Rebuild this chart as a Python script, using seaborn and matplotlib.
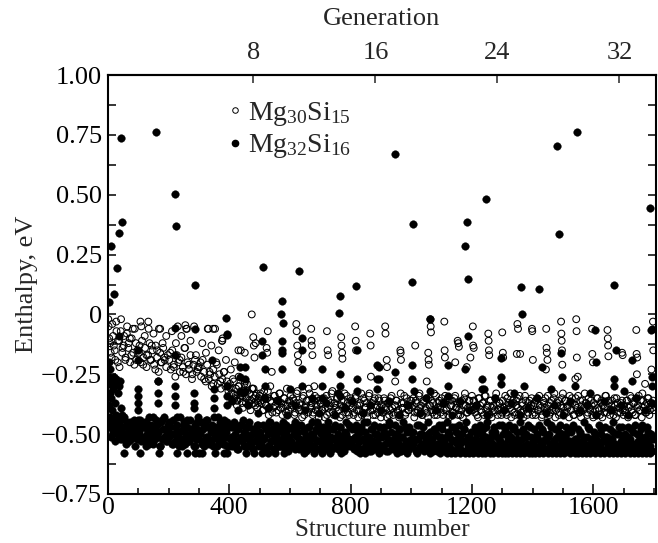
import numpy as np
import pandas as pd
import matplotlib
matplotlib.use("Agg")
import matplotlib.pyplot as plt
import seaborn as sns
from matplotlib.lines import Line2D
from matplotlib.ticker import MultipleLocator

# ---------------- data ----------------
# Mg30Si15 (open circles): dense band, one value every 5th structure
mg30_band_y = [
    -0.05,-0.12,-0.18,-0.09,-0.15,-0.03,-0.2,-0.11,-0.07,-0.16,-0.13,-0.19,-0.08,-0.14,-0.1,-0.17,-0.06,-0.21,-0.12,-0.15,
    -0.16,-0.2,-0.11,-0.18,-0.14,-0.22,-0.17,-0.12,-0.19,-0.15,-0.21,-0.13,-0.18,-0.24,-0.16,-0.2,-0.14,-0.19,-0.22,-0.17,
    -0.19,-0.23,-0.15,-0.21,-0.26,-0.17,-0.2,-0.24,-0.18,-0.22,-0.14,-0.25,-0.2,-0.23,-0.17,-0.27,-0.21,-0.19,-0.24,-0.22,
    -0.22,-0.26,-0.19,-0.24,-0.28,-0.21,-0.27,-0.25,-0.3,-0.23,-0.26,-0.2,-0.29,-0.25,-0.31,-0.27,-0.24,-0.3,-0.28,-0.32,
    -0.29,-0.33,-0.27,-0.35,-0.31,-0.36,-0.3,-0.34,-0.37,-0.32,-0.28,-0.35,-0.38,-0.33,-0.36,-0.31,-0.37,-0.34,-0.39,-0.35,
    -0.33,-0.37,-0.4,-0.35,-0.38,-0.32,-0.39,-0.36,-0.41,-0.34,-0.38,-0.36,-0.4,-0.33,-0.37,-0.39,-0.35,-0.41,-0.38,-0.36,
    -0.34,-0.38,-0.36,-0.41,-0.33,-0.39,-0.37,-0.4,-0.35,-0.42,-0.38,-0.36,-0.31,-0.39,-0.37,-0.41,-0.34,-0.38,-0.4,-0.36,
    -0.37,-0.4,-0.35,-0.39,-0.42,-0.36,-0.38,-0.33,-0.41,-0.37,-0.39,-0.35,-0.4,-0.38,-0.42,-0.36,-0.39,-0.34,-0.41,-0.38,
    -0.36,-0.39,-0.41,-0.34,-0.38,-0.4,-0.37,-0.42,-0.35,-0.39,-0.37,-0.41,-0.33,-0.38,-0.4,-0.36,-0.42,-0.38,-0.35,-0.39,
    -0.38,-0.41,-0.36,-0.4,-0.37,-0.42,-0.35,-0.39,-0.41,-0.38,-0.36,-0.4,-0.42,-0.37,-0.39,-0.34,-0.41,-0.38,-0.4,-0.36,
    -0.39,-0.35,-0.41,-0.37,-0.4,-0.33,-0.38,-0.42,-0.36,-0.39,-0.41,-0.35,-0.38,-0.4,-0.37,-0.42,-0.34,-0.39,-0.36,-0.41,
    -0.37,-0.4,-0.34,-0.39,-0.42,-0.36,-0.38,-0.41,-0.35,-0.39,-0.37,-0.4,-0.42,-0.36,-0.38,-0.33,-0.41,-0.39,-0.36,-0.4,
    -0.4,-0.36,-0.39,-0.42,-0.35,-0.38,-0.41,-0.37,-0.34,-0.4,-0.38,-0.42,-0.36,-0.39,-0.41,-0.35,-0.38,-0.4,-0.37,-0.42,
    -0.36,-0.39,-0.41,-0.35,-0.38,-0.33,-0.4,-0.37,-0.42,-0.36,-0.39,-0.34,-0.41,-0.38,-0.4,-0.36,-0.42,-0.37,-0.39,-0.35,
    -0.38,-0.41,-0.36,-0.4,-0.34,-0.39,-0.42,-0.37,-0.35,-0.4,-0.38,-0.41,-0.36,-0.39,-0.33,-0.4,-0.37,-0.42,-0.38,-0.35,
    -0.39,-0.36,-0.41,-0.38,-0.34,-0.4,-0.37,-0.42,-0.35,-0.39,-0.41,-0.36,-0.38,-0.4,-0.33,-0.37,-0.41,-0.39,-0.36,-0.42,
    -0.37,-0.4,-0.35,-0.39,-0.42,-0.36,-0.38,-0.41,-0.34,-0.39,-0.37,-0.4,-0.36,-0.42,-0.38,-0.35,-0.41,-0.39,-0.37,-0.4,
    -0.38,-0.41,-0.36,-0.39,-0.34,-0.4,-0.37,-0.42,-0.35,-0.38,-0.4,-0.36,-0.33,-0.39,-0.41,-0.37,-0.35,-0.4,-0.38,-0.36,
]
mg30_band_x = np.arange(len(mg30_band_y)) * 5 + 2  # structure numbers

# second interleaved band of Mg30Si15, structures 405, 410, ...
mg30_band2_y = [
    -0.31,-0.36,-0.28,-0.34,-0.38,-0.3,-0.35,-0.33,-0.39,-0.29,-0.37,-0.32,-0.36,-0.4,-0.31,-0.35,-0.38,-0.33,-0.37,-0.34,
    -0.36,-0.4,-0.32,-0.38,-0.35,-0.42,-0.3,-0.37,-0.39,-0.34,-0.41,-0.36,-0.33,-0.39,-0.42,-0.35,-0.38,-0.31,-0.4,-0.37,
    -0.39,-0.35,-0.42,-0.37,-0.32,-0.4,-0.38,-0.43,-0.34,-0.39,-0.36,-0.41,-0.33,-0.38,-0.42,-0.36,-0.4,-0.35,-0.43,-0.37,
    -0.4,-0.36,-0.43,-0.34,-0.39,-0.41,-0.37,-0.32,-0.42,-0.38,-0.35,-0.4,-0.43,-0.36,-0.39,-0.33,-0.41,-0.37,-0.42,-0.35,
    -0.37,-0.42,-0.35,-0.4,-0.43,-0.38,-0.33,-0.41,-0.36,-0.39,-0.43,-0.34,-0.4,-0.37,-0.42,-0.35,-0.39,-0.41,-0.36,-0.43,
    -0.41,-0.35,-0.39,-0.43,-0.37,-0.4,-0.34,-0.42,-0.38,-0.36,-0.41,-0.43,-0.33,-0.39,-0.37,-0.42,-0.35,-0.4,-0.38,-0.36,
    -0.38,-0.43,-0.36,-0.41,-0.34,-0.39,-0.42,-0.37,-0.4,-0.35,-0.43,-0.38,-0.36,-0.41,-0.33,-0.4,-0.42,-0.37,-0.39,-0.35,
    -0.42,-0.37,-0.4,-0.35,-0.43,-0.38,-0.36,-0.41,-0.34,-0.39,-0.42,-0.37,-0.4,-0.43,-0.35,-0.38,-0.41,-0.36,-0.39,-0.34,
    -0.36,-0.41,-0.38,-0.43,-0.35,-0.4,-0.37,-0.42,-0.34,-0.39,-0.41,-0.36,-0.43,-0.38,-0.4,-0.33,-0.42,-0.37,-0.39,-0.41,
    -0.4,-0.34,-0.42,-0.37,-0.39,-0.43,-0.36,-0.41,-0.38,-0.35,-0.42,-0.4,-0.37,-0.43,-0.34,-0.39,-0.41,-0.36,-0.38,-0.42,
    -0.37,-0.42,-0.35,-0.4,-0.38,-0.43,-0.36,-0.39,-0.41,-0.34,-0.42,-0.37,-0.4,-0.35,-0.43,-0.38,-0.36,-0.41,-0.39,-0.33,
    -0.41,-0.36,-0.39,-0.43,-0.37,-0.35,-0.42,-0.38,-0.4,-0.34,-0.41,-0.43,-0.36,-0.39,-0.37,-0.42,-0.35,-0.4,-0.38,-0.43,
    -0.38,-0.42,-0.35,-0.4,-0.37,-0.43,-0.39,-0.34,-0.41,-0.36,-0.42,-0.38,-0.4,-0.35,-0.43,-0.37,-0.39,-0.41,-0.36,-0.42,
    -0.4,-0.36,-0.43,-0.38,-0.35,-0.41,-0.37,-0.42,-0.39,-0.34,-0.4,-0.43,-0.36,-0.38,-0.41,-0.35,-0.42,-0.37,-0.39,-0.4,
]
mg30_band2_x = np.arange(len(mg30_band2_y)) * 5 + 405

# Mg30Si15 extra / scattered points (structure, enthalpy)
mg30_extra_x = [1,4,9,14,19,24,28,33,38,43,48,53,58,63,68,73,78,83,88,93,
                104,110,116,121,127,133,139,144,150,156,162,168,174,180,186,192,
                205,211,217,224,230,236,242,248,254,260,266,272,278,284,290,296,
                305,311,317,323,329,335,341,347,353,359,365,371,377,383,389,395,
                405,412,418,425,431,438,444,451,458,465,474,480,487,493,
                107,134,172,255,258,331,347,376,378,430,
                479,481,483,527,523,525,540,621,622,624,626,627,670,671,672,674,680,
                722,724,726,769,770,772,773,815,817,818,865,866,867,
                914,915,964,965,966,1013,919,920,1056,1057,1058,1063,1064,1065,1109,1110,1111,
                1145,1153,1155,1157,1183,1195,1203,1204,1206,1254,1255,1256,1257,1300,1302,1303,1051,947,
                1350,1352,1348,1359,1398,1399,1401,1445,1446,1447,1449,1444,1494,1495,1496,1497,1498,
                1544,1545,1546,1541,1549,1596,1597,1599,1647,1648,1649,1650,1695,1697,1742,1743,1745,
                1797,1798,1792,1744,1771]
mg30_extra_y = [-0.02,-0.1,-0.16,-0.04,-0.13,-0.19,-0.07,-0.11,-0.22,-0.02,-0.14,-0.09,-0.18,-0.05,-0.12,-0.2,-0.1,-0.16,-0.06,-0.19,
                -0.13,-0.05,-0.21,-0.09,-0.17,-0.03,-0.19,-0.13,-0.08,-0.23,-0.15,-0.06,-0.2,-0.12,-0.18,-0.09,
                -0.16,-0.07,-0.22,-0.12,-0.05,-0.19,-0.09,-0.24,-0.14,-0.06,-0.21,-0.11,-0.25,-0.05,-0.17,-0.23,
                -0.2,-0.12,-0.27,-0.16,-0.06,-0.24,-0.13,-0.29,-0.06,-0.21,-0.15,-0.28,-0.11,-0.24,-0.19,-0.3,
                -0.23,-0.33,-0.2,-0.36,-0.26,-0.15,-0.34,-0.16,-0.29,-0.37,0.0,-0.31,-0.12,-0.36,
                -0.03,-0.06,-0.06,-0.045,-0.06,-0.06,-0.06,-0.11,-0.1,-0.15,
                -0.095,-0.13,-0.18,-0.07,-0.14,-0.16,-0.24,-0.04,-0.07,-0.13,-0.17,-0.2,-0.06,-0.11,-0.13,-0.17,-0.3,
                -0.07,-0.15,-0.17,-0.095,-0.13,-0.16,-0.185,-0.05,-0.11,-0.15,-0.08,-0.13,-0.26,
                -0.05,-0.08,-0.15,-0.16,-0.19,-0.13,-0.19,-0.22,-0.16,-0.19,-0.21,-0.02,-0.05,-0.075,-0.03,-0.15,-0.18,
                -0.2,-0.11,-0.12,-0.135,-0.22,-0.18,-0.05,-0.13,-0.14,-0.08,-0.11,-0.15,-0.17,-0.075,-0.16,-0.18,-0.28,-0.28,
                -0.04,-0.06,-0.165,-0.165,-0.06,-0.07,-0.19,-0.06,-0.14,-0.16,-0.19,-0.23,-0.03,-0.08,-0.11,-0.15,-0.21,
                -0.02,-0.07,-0.18,-0.27,-0.26,-0.06,-0.165,-0.2,-0.065,-0.1,-0.13,-0.175,-0.16,-0.17,-0.065,-0.165,-0.18,
                -0.03,-0.15,-0.23,-0.25,-0.29]

# Mg32Si16 (filled circles): dense band, one value every 4th structure
mg32_band_y = [
    -0.45,-0.43,-0.47,-0.44,-0.49,-0.46,-0.42,-0.5,-0.45,-0.48,-0.44,-0.52,-0.47,-0.43,-0.51,-0.46,-0.49,-0.53,-0.45,-0.48,-0.5,-0.44,-0.47,-0.52,-0.46,
    -0.49,-0.44,-0.53,-0.47,-0.51,-0.45,-0.55,-0.48,-0.43,-0.52,-0.46,-0.5,-0.54,-0.47,-0.44,-0.51,-0.49,-0.55,-0.45,-0.52,-0.48,-0.43,-0.53,-0.5,-0.46,
    -0.51,-0.47,-0.54,-0.44,-0.5,-0.53,-0.46,-0.49,-0.55,-0.43,-0.52,-0.48,-0.45,-0.54,-0.5,-0.47,-0.53,-0.44,-0.51,-0.49,-0.55,-0.46,-0.52,-0.48,-0.43,
    -0.5,-0.45,-0.53,-0.48,-0.55,-0.44,-0.51,-0.47,-0.54,-0.49,-0.46,-0.52,-0.43,-0.5,-0.55,-0.47,-0.53,-0.45,-0.49,-0.54,-0.44,-0.51,-0.48,-0.55,-0.46,
    -0.52,-0.47,-0.55,-0.45,-0.5,-0.54,-0.48,-0.56,-0.46,-0.51,-0.53,-0.44,-0.49,-0.55,-0.47,-0.52,-0.45,-0.54,-0.5,-0.56,-0.48,-0.53,-0.46,-0.51,-0.55,
    -0.49,-0.54,-0.46,-0.52,-0.56,-0.47,-0.5,-0.55,-0.45,-0.53,-0.48,-0.56,-0.51,-0.46,-0.54,-0.49,-0.55,-0.47,-0.52,-0.45,-0.56,-0.5,-0.53,-0.48,-0.55,
    -0.53,-0.47,-0.55,-0.5,-0.45,-0.54,-0.49,-0.56,-0.52,-0.46,-0.55,-0.48,-0.53,-0.51,-0.56,-0.47,-0.54,-0.5,-0.45,-0.55,-0.52,-0.48,-0.56,-0.46,-0.53,
    -0.5,-0.55,-0.47,-0.53,-0.56,-0.49,-0.45,-0.54,-0.51,-0.56,-0.48,-0.52,-0.46,-0.55,-0.5,-0.53,-0.47,-0.56,-0.51,-0.54,-0.49,-0.45,-0.55,-0.52,-0.47,
    -0.54,-0.48,-0.56,-0.51,-0.46,-0.55,-0.5,-0.53,-0.47,-0.56,-0.52,-0.49,-0.55,-0.45,-0.54,-0.51,-0.57,-0.48,-0.53,-0.46,-0.56,-0.5,-0.54,-0.47,-0.55,
    -0.51,-0.56,-0.47,-0.54,-0.5,-0.57,-0.45,-0.53,-0.49,-0.55,-0.52,-0.46,-0.56,-0.5,-0.54,-0.48,-0.57,-0.51,-0.45,-0.55,-0.53,-0.49,-0.56,-0.47,-0.52,
    -0.55,-0.49,-0.53,-0.57,-0.46,-0.52,-0.56,-0.5,-0.54,-0.47,-0.57,-0.51,-0.55,-0.45,-0.53,-0.49,-0.56,-0.52,-0.48,-0.55,-0.5,-0.57,-0.46,-0.54,-0.51,
    -0.48,-0.54,-0.57,-0.51,-0.45,-0.55,-0.5,-0.56,-0.47,-0.53,-0.57,-0.49,-0.52,-0.56,-0.46,-0.54,-0.5,-0.57,-0.48,-0.53,-0.45,-0.55,-0.51,-0.56,-0.49,
    -0.53,-0.57,-0.47,-0.55,-0.5,-0.54,-0.46,-0.57,-0.52,-0.48,-0.56,-0.51,-0.45,-0.55,-0.53,-0.57,-0.49,-0.54,-0.47,-0.56,-0.51,-0.55,-0.46,-0.53,-0.57,
    -0.5,-0.55,-0.48,-0.57,-0.52,-0.46,-0.56,-0.51,-0.54,-0.47,-0.57,-0.53,-0.49,-0.55,-0.45,-0.56,-0.52,-0.48,-0.57,-0.5,-0.54,-0.46,-0.55,-0.51,-0.57,
    -0.54,-0.48,-0.56,-0.51,-0.57,-0.46,-0.53,-0.55,-0.49,-0.57,-0.52,-0.45,-0.56,-0.5,-0.54,-0.47,-0.57,-0.53,-0.48,-0.55,-0.51,-0.56,-0.46,-0.54,-0.5,
    -0.56,-0.51,-0.47,-0.55,-0.53,-0.57,-0.49,-0.54,-0.46,-0.56,-0.52,-0.57,-0.48,-0.55,-0.5,-0.53,-0.57,-0.45,-0.54,-0.51,-0.56,-0.48,-0.55,-0.52,-0.57,
    -0.49,-0.55,-0.52,-0.57,-0.46,-0.54,-0.5,-0.56,-0.53,-0.47,-0.57,-0.51,-0.55,-0.48,-0.56,-0.52,-0.45,-0.54,-0.57,-0.5,-0.55,-0.47,-0.53,-0.56,-0.51,
    -0.55,-0.5,-0.57,-0.47,-0.54,-0.52,-0.56,-0.49,-0.55,-0.46,-0.57,-0.53,-0.5,-0.56,-0.48,-0.54,-0.57,-0.51,-0.55,-0.47,-0.53,-0.56,-0.5,-0.57,-0.52,
]
mg32_band_x = np.arange(len(mg32_band_y)) * 4 + 2  # structure numbers

# second interleaved band of Mg32Si16, structures 4, 10, 16, ...
mg32_band2_y = [
    -0.47,-0.51,-0.44,-0.53,-0.49,-0.46,-0.52,-0.43,-0.5,-0.54,-0.45,-0.48,-0.52,-0.46,-0.55,-0.49,-0.44,-0.51,-0.47,-0.53,-0.45,-0.5,-0.54,-0.48,-0.43,
    -0.52,-0.46,-0.49,-0.55,-0.44,-0.51,-0.48,-0.53,-0.45,-0.5,-0.54,-0.47,-0.43,-0.52,-0.49,-0.55,-0.46,-0.51,-0.44,-0.53,-0.48,-0.5,-0.55,-0.45,-0.52,
    -0.49,-0.54,-0.46,-0.51,-0.44,-0.53,-0.48,-0.55,-0.47,-0.5,-0.43,-0.52,-0.46,-0.54,-0.49,-0.45,-0.55,-0.51,-0.47,-0.53,-0.56,-0.48,-0.52,-0.46,-0.55,
    -0.5,-0.55,-0.47,-0.53,-0.56,-0.49,-0.52,-0.46,-0.54,-0.51,-0.57,-0.48,-0.55,-0.45,-0.53,-0.5,-0.56,-0.47,-0.52,-0.55,-0.49,-0.54,-0.46,-0.57,-0.51,
    -0.54,-0.48,-0.56,-0.51,-0.46,-0.55,-0.53,-0.49,-0.57,-0.47,-0.52,-0.55,-0.5,-0.56,-0.45,-0.53,-0.49,-0.57,-0.51,-0.54,-0.47,-0.56,-0.52,-0.48,-0.55,
    -0.51,-0.56,-0.47,-0.53,-0.57,-0.5,-0.54,-0.46,-0.55,-0.52,-0.48,-0.57,-0.53,-0.49,-0.56,-0.45,-0.54,-0.51,-0.57,-0.48,-0.55,-0.5,-0.53,-0.56,-0.47,
    -0.55,-0.49,-0.57,-0.52,-0.46,-0.54,-0.56,-0.5,-0.53,-0.48,-0.57,-0.51,-0.55,-0.47,-0.53,-0.56,-0.49,-0.54,-0.52,-0.57,-0.46,-0.55,-0.5,-0.56,-0.53,
    -0.5,-0.55,-0.53,-0.57,-0.48,-0.54,-0.51,-0.56,-0.46,-0.53,-0.57,-0.49,-0.55,-0.52,-0.57,-0.47,-0.54,-0.5,-0.56,-0.53,-0.48,-0.57,-0.51,-0.55,-0.54,
    -0.56,-0.52,-0.48,-0.55,-0.57,-0.5,-0.54,-0.47,-0.56,-0.53,-0.51,-0.57,-0.49,-0.55,-0.52,-0.56,-0.46,-0.54,-0.57,-0.5,-0.55,-0.53,-0.48,-0.56,-0.52,
    -0.53,-0.57,-0.49,-0.55,-0.51,-0.56,-0.47,-0.54,-0.57,-0.52,-0.5,-0.55,-0.57,-0.48,-0.53,-0.56,-0.51,-0.54,-0.46,-0.57,-0.52,-0.55,-0.49,-0.56,-0.53,
    -0.55,-0.5,-0.57,-0.53,-0.48,-0.56,-0.52,-0.54,-0.57,-0.49,-0.55,-0.51,-0.56,-0.47,-0.54,-0.57,-0.52,-0.5,-0.55,-0.56,-0.48,-0.53,-0.57,-0.51,-0.54,
    -0.52,-0.56,-0.49,-0.54,-0.57,-0.5,-0.55,-0.47,-0.53,-0.56,-0.51,-0.57,-0.48,-0.54,-0.55,-0.5,-0.57,-0.52,-0.46,-0.56,-0.53,-0.49,-0.55,-0.57,-0.51,
]
mg32_band2_x = np.arange(len(mg32_band2_y)) * 6 + 4

# Mg32Si16 lowest-enthalpy row
mg32_floor_x = [52,107,167,227,260,288,299,310,354,381,392,456,480,507,529,551,579,645,680,705,733,768,832,848,
                892,953,986,1018,1062,1095,1117,1130,1144,1160,1177,1190,1205,1221,1232,1243,1258,1271,1285,1298,
                1310,1320,1332,1345,1359,1373,1387,1398,1409,1422,1436,1450,1464,1478,1491,1505,1524,1541,1550,
                1563,1577,1590,1605,1623,1637,1651,1664,1678,1692,1706,1720,1733,1747,1761,1775,1788]
mg32_floor_y = [-0.58,-0.58,-0.58,-0.58,-0.58,-0.58,-0.58,-0.58,-0.58,-0.58,-0.58,-0.58,-0.58,-0.58,-0.58,-0.58,-0.58,-0.58,-0.58,-0.58,
                -0.58,-0.58,-0.58,-0.58,-0.58,-0.58,-0.58,-0.58,-0.58,-0.58,-0.58,-0.58,-0.58,-0.58,-0.58,-0.58,-0.58,-0.58,-0.58,-0.58,
                -0.58,-0.58,-0.58,-0.58,-0.58,-0.58,-0.58,-0.58,-0.58,-0.58,-0.58,-0.58,-0.58,-0.58,-0.58,-0.58,-0.58,-0.58,-0.58,-0.58,
                -0.58,-0.58,-0.58,-0.58,-0.58,-0.58,-0.58,-0.58,-0.58,-0.58,-0.58,-0.58,-0.58,-0.58,-0.58,-0.58,-0.58,-0.58,-0.58,-0.58]

# Mg32Si16 intermediate points (columns and scattered)
mg32_mid_x = [2,3,5,4,6,8,10,12,14,16,20,22,25,28,32,35,38,42,45,
              36,99,99,222,288,392,344,222,166,
              99,99,99,99,166,166,166,222,222,222,282,282,282,348,348,348,392,392,392,436,436,436,
              452,452,452,518,518,518,573,573,573,639,639,639,639,705,705,705,766,766,766,821,821,821,887,887,887,507,507,575,
              892,892,947,1002,1002,1062,1121,1121,1186,1177,1232,1232,1297,1297,1297,
              1373,1430,1494,1496,1541,1607,1610,1670,1676,1728,1728,1793,1793,1793,1670,
              410,430,462,495,528,560,590,615,650,672,695,720,748,780,805,840,865,900,925,960,990,1030,1050,1080,1105,
              1135,1160,1190,1215,1250,1275,1305,1330,1360,1385,1415,1445,1470,1500,1525,1555,1580,1610,1635,1660,
              1690,1715,1740,1770,1795,445,600,760,1010,1120,1240,1340,1460,1590,1700]
mg32_mid_y = [-0.2,-0.26,-0.33,-0.38,-0.29,-0.23,-0.35,-0.4,-0.28,-0.31,-0.26,-0.37,-0.29,-0.27,-0.33,-0.3,-0.28,-0.39,-0.42,
              -0.09,-0.15,-0.19,-0.055,-0.06,-0.08,-0.19,-0.17,-0.28,
              -0.31,-0.34,-0.37,-0.4,-0.28,-0.33,-0.37,-0.3,-0.34,-0.38,-0.33,-0.37,-0.39,-0.31,-0.35,-0.39,-0.3,-0.34,-0.38,-0.22,-0.26,-0.32,
              -0.22,-0.27,-0.32,-0.23,-0.3,-0.35,-0.11,-0.15,-0.23,-0.1,-0.15,-0.23,-0.3,-0.23,-0.3,-0.35,-0.25,-0.3,-0.34,-0.15,-0.27,-0.32,-0.21,-0.27,-0.31,-0.11,-0.17,-0.16,
              -0.22,-0.27,-0.24,-0.21,-0.27,-0.32,-0.21,-0.3,-0.09,-0.23,-0.27,-0.31,-0.18,-0.26,-0.29,
              -0.3,-0.22,-0.16,-0.26,-0.3,-0.065,-0.2,-0.27,-0.15,-0.19,-0.28,-0.06,-0.26,-0.3,-0.3,
              -0.36,-0.4,-0.38,-0.41,-0.39,-0.36,-0.42,-0.38,-0.4,-0.35,-0.41,-0.37,-0.42,-0.39,-0.36,-0.41,-0.38,-0.4,-0.36,-0.42,-0.38,-0.41,-0.35,-0.4,-0.37,
              -0.42,-0.36,-0.4,-0.38,-0.42,-0.35,-0.4,-0.37,-0.42,-0.39,-0.35,-0.41,-0.38,-0.42,-0.36,-0.4,-0.38,-0.42,-0.36,-0.4,
              -0.38,-0.42,-0.35,-0.4,-0.37,-0.33,-0.31,-0.33,-0.32,-0.34,-0.31,-0.33,-0.31,-0.33,-0.32]

# Mg32Si16 high-enthalpy outliers
mg32_high_x = [4,11,21,29,36,43,47,157,222,224,286,510,631,764,761,819,946,1003,1007,1061,1178,1183,1187,
               1245,1363,1366,1421,1482,1486,1546,1669,1786,573,570,577,388,391,1789]
mg32_high_y = [0.05,0.287,0.084,0.194,0.339,0.735,0.387,0.761,0.504,0.371,0.124,0.197,0.182,0.075,0.006,0.12,0.668,
               0.135,0.377,-0.018,0.284,0.387,0.15,0.481,0.115,0.003,0.105,0.703,0.338,0.761,0.124,0.444,0.058,0.0,
               -0.034,-0.015,-0.087,-0.064]

y_ticks = [-0.75, -0.5, -0.25, 0, 0.25, 0.5, 0.75, 1.0]
y_tick_labels = ["\u22120.75", "\u22120.50", "\u22120.25", "0", "0.25", "0.50", "0.75", "1.00"]
x_ticks = [0, 400, 800, 1200, 1600]
gen_ticks = [8, 16, 24, 32]

# ---------------- data frames ----------------
mg30 = pd.DataFrame({"structure": np.concatenate([mg30_band_x, mg30_band2_x, mg30_extra_x]),
                     "enthalpy": np.concatenate([mg30_band_y, mg30_band2_y, mg30_extra_y])})
mg32 = pd.DataFrame({"structure": np.concatenate([mg32_band_x, mg32_band2_x, mg32_floor_x, mg32_mid_x, mg32_high_x]),
                     "enthalpy": np.concatenate([mg32_band_y, mg32_band2_y, mg32_floor_y, mg32_mid_y, mg32_high_y])})

# ---------------- style ----------------
sns.set_style("ticks")
plt.rcParams["font.family"] = ["Liberation Serif", "DejaVu Serif"]
plt.rcParams["mathtext.fontset"] = "custom"
plt.rcParams["mathtext.rm"] = "Liberation Serif"
plt.rcParams["mathtext.it"] = "Liberation Serif:italic"

fig = plt.figure(figsize=(6.58, 5.43), dpi=100)
ax_top_px, ax_bot_px = 75, 494
ax = fig.add_axes([108 / 658, 1 - ax_bot_px / 543, 548 / 658, (ax_bot_px - ax_top_px) / 543])

sns.scatterplot(data=mg30, x="structure", y="enthalpy", ax=ax, marker="o", s=24,
                facecolor="none", edgecolor="black", linewidth=0.75, zorder=2)
sns.scatterplot(data=mg32, x="structure", y="enthalpy", ax=ax, marker="o", s=30,
                color="black", edgecolor="black", linewidth=0.3, zorder=3)

ax.set_xlim(0, 1807)
ax.set_ylim(-0.75, 1.0)
ax.set_yticks(y_ticks)
ax.set_yticklabels(y_tick_labels)
ax.set_xticks(x_ticks)
ax.set_xticklabels([str(v) for v in x_ticks])
ax.yaxis.set_minor_locator(MultipleLocator(0.125))
ax.xaxis.set_minor_locator(MultipleLocator(100))
ax.tick_params(axis="both", which="both", direction="in", width=1.1, labelsize=19, colors="black")
ax.tick_params(axis="y", which="both", length=5.5, right=True, pad=4.5)
ax.tick_params(axis="x", which="major", length=7, top=False, pad=2.5, labelsize=18.5)
ax.tick_params(axis="x", which="minor", length=4.3, top=False)
for sp in ax.spines.values():
    sp.set_linewidth(1.5)
    sp.set_color("black")
    sp.set_visible(True)

ax.set_xlabel("Structure number", fontsize=18, labelpad=-0.5)
ax.set_ylabel("Enthalpy, eV", fontsize=19, labelpad=2)

secax = ax.secondary_xaxis("top", functions=(lambda s: (s - 77) / 50.3, lambda g: g * 50.3 + 77))
secax.set_xticks(gen_ticks)
secax.set_xticklabels([str(g) for g in gen_ticks])
secax.tick_params(direction="in", length=6, width=1.1, labelsize=19, pad=8)
secax.set_xlabel("Generation", fontsize=19, labelpad=12)
secax.spines["top"].set_linewidth(1.5)

handles = [Line2D([], [], linestyle="none", marker="o", markersize=4, markerfacecolor="white",
                  markeredgecolor="black", markeredgewidth=0.7),
           Line2D([], [], linestyle="none", marker="o", markersize=4.5, markerfacecolor="black",
                  markeredgecolor="black")]
labels = ["Mg$_{\\mathregular{30}}$Si$_{\\mathregular{15}}$", "Mg$_{\\mathregular{32}}$Si$_{\\mathregular{16}}$"]
ax.legend(handles, labels, loc="upper left", bbox_to_anchor=(0.2195, 0.94), frameon=False,
          fontsize=20, handlelength=0.5, handletextpad=0.22, borderpad=0, borderaxespad=0,
          labelspacing=0.15)

fig.savefig("out.png", dpi=100)
